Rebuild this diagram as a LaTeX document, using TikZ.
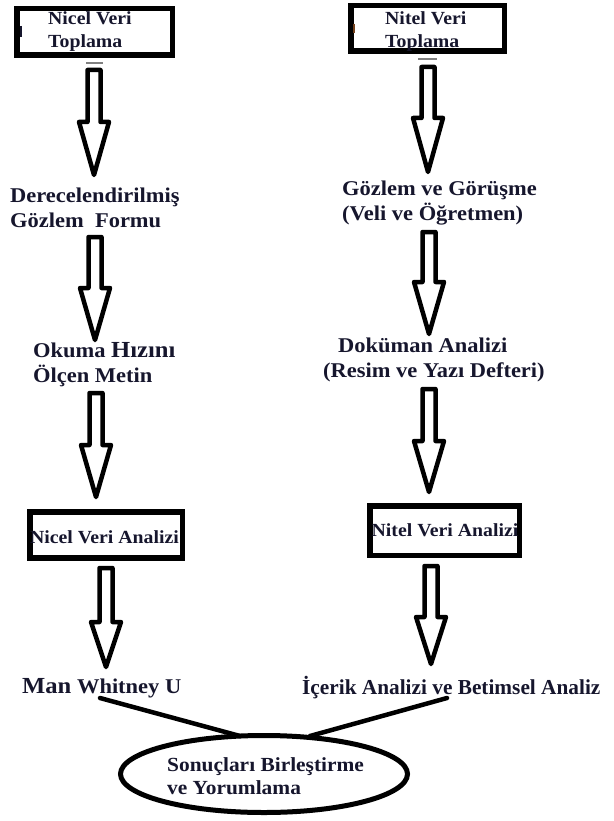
\documentclass[tikz,border=0pt]{standalone}
\usepackage{fontspec}
\setmainfont{Liberation Serif}[BoldFont={Liberation Serif Bold}, FakeStretch=1.07]
\newfontfamily\plainserif{Liberation Serif}[BoldFont={Liberation Serif Bold}]
\usetikzlibrary{shapes.geometric}
\definecolor{ink}{RGB}{22,22,45}
\newcommand{\blkarrow}[4]{%
  \draw[barrow] (#1-6.5,#2) -- (#1+6.5,#2) -- (#1+6.5,#3) -- (#1+15,#3) -- (#1,#4) -- (#1-15,#3) -- (#1-6.5,#3) -- cycle;}
\begin{document}
\begin{tikzpicture}[x=1pt,y=-1pt,
  boxshape/.style={draw=black, line width=5.5pt, inner sep=0pt},
  barrow/.style={draw=black, fill=white, line width=4.5pt, line join=round},
  lbl/.style={text=ink, font=\fontsize{21}{25}\selectfont\bfseries, inner sep=0pt, align=left, anchor=west},
  boxlbl/.style={text=ink, font=\fontsize{18.5}{22.5}\selectfont\bfseries, inner sep=0pt, align=left},
  joinline/.style={draw=black, line width=4.5pt, line cap=round}]
\useasboundingbox (0,0) rectangle (613,821);
% top boxes
\node[boxshape, minimum width=155.5pt, minimum height=46.5pt] (b1) at (94.5,32) {};
\node[boxlbl, anchor=west] (b1t) at (48,31.5) {Nicel Veri\\Toplama};
\node[boxshape, minimum width=153.5pt, minimum height=45.5pt] (b2) at (427.5,28.5) {};
\node[boxlbl, anchor=west] (b2t) at (385,31.5) {Nitel Veri\\Toplama};
% small marks
\draw[gray, line width=1.5pt] (86,63) -- (103,63);
\draw[gray, line width=1.5pt] (418,59) -- (437,59);
\draw[ink, line width=1.2pt] (21,26) -- (21,37);
\draw[ink!60!orange, line width=1.2pt] (354,24) -- (354,33);
% arrows left column
\blkarrow{94}{70}{122}{175}
\blkarrow{95}{237}{288}{340}
\blkarrow{96}{393}{445}{497}
\blkarrow{106}{568}{622}{667}
% arrows right column
\blkarrow{428}{67}{118}{172}
\blkarrow{429}{232}{282}{334}
\blkarrow{429}{389}{441}{492}
\blkarrow{431}{566}{617}{664}
% left texts
\node[lbl] (l1) at (10,207.5) {Derecelendirilmiş\\Gözlem\ \ Formu};
\node[lbl] (l2) at (33,364.5) {Okuma {\fontsize{23}{25}\selectfont Hızını}\\Ölçen Metin};
% right texts
\node[lbl] (r1) at (342,203.5) {Gözlem ve Görüşme\\(Veli ve Öğretmen)};
\node[lbl] (r2) at (323,360) {\hspace{15pt}Doküman Analizi\\(Resim ve Yazı Defteri)};
% analysis boxes
\node[boxshape, minimum width=152.5pt, minimum height=46pt] (b3) at (106,535) {};
\node[boxlbl] (b3t) at (104.5,537) {Nicel Veri Analizi};
\node[boxshape, minimum width=149.5pt, minimum height=49.5pt] (b4) at (444.5,530.5) {};
\node[boxlbl] (b4t) at (445,530) {Nitel Veri Analizi};
% bottom texts
\node[lbl] (mw) at (22,688) {{\fontsize{23}{25}\selectfont Man} Whitney U};
\node[lbl, font=\plainserif\fontsize{21.3}{25}\selectfont\bfseries] (ic) at (302,688) {İçerik Analizi ve Betimsel Analiz};
% ellipse
\node[draw=black, ellipse, line width=5pt, minimum width=287pt, minimum height=77pt, inner sep=0pt] (el) at (264,774) {};
\node[lbl, font=\fontsize{20}{23}\selectfont\bfseries] (elt) at (167,776.5) {Sonuçları Birleştirme\\ve Yorumlama};
% connectors
\coordinate (mwa) at (100,698);
\coordinate (ica) at (447,698);
\coordinate (ela) at (240,736);
\coordinate (elb) at (310,736);
\draw[joinline] (mwa) -- (ela);
\draw[joinline] (ica) -- (elb);
\end{tikzpicture}
\end{document}
